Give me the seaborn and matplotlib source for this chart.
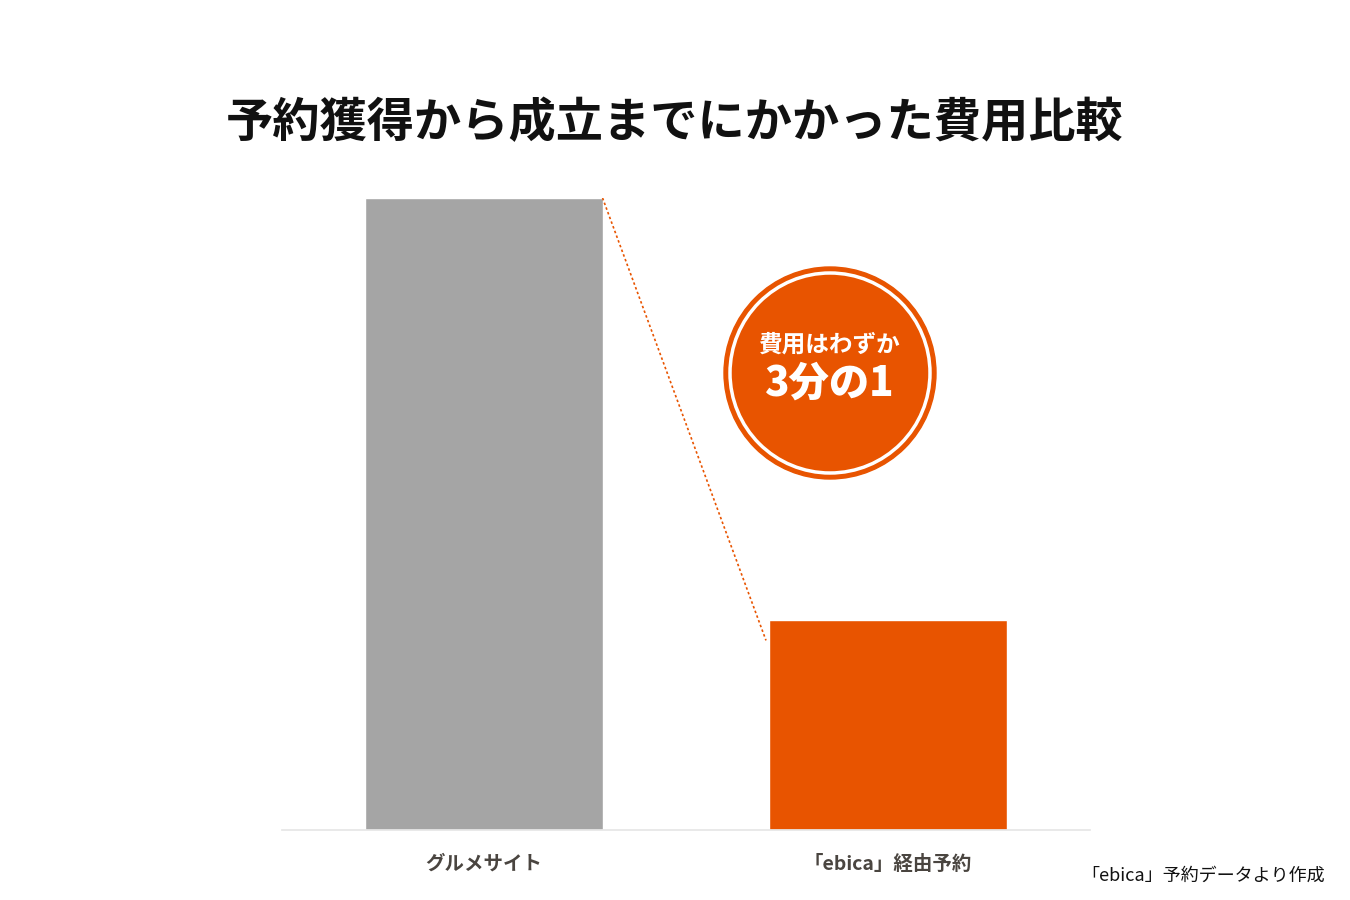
import matplotlib
matplotlib.use("Agg")
import matplotlib.pyplot as plt
import seaborn as sns
import pandas as pd
from matplotlib.patches import Circle

sns.set_theme(style="white")
plt.rcParams['font.family'] = ['Noto Sans CJK JP', 'DejaVu Sans']

categories = ["グルメサイト", "「ebica」経由予約"]
costs = [100, 33.2]
bar_colors = ["#a5a5a5", "#e85400"]

df = pd.DataFrame({"category": categories, "cost": costs})

fig = plt.figure(figsize=(13.5, 9), dpi=100)
ax = fig.add_axes([282/1350, 70/900, 808/1350, 632/900])
sns.barplot(data=df, x="category", y="cost", hue="category", palette=bar_colors,
            width=0.587, legend=False, ax=ax, saturation=1)
ax.set_xlim(-0.5, 1.5)
ax.set_ylim(0, 100)
ax.set_xlabel("")
ax.set_ylabel("")
ax.set_yticks([])
for s in ["top", "right", "left"]:
    ax.spines[s].set_visible(False)
ax.spines["bottom"].set_color("#e6e6e6")
ax.tick_params(axis="x", length=0, pad=18)
for t in ax.get_xticklabels():
    t.set_fontsize(14)
    t.set_fontweight("bold")
    t.set_color("#4a4540")

# dotted connector from bar 1 top to bar 2
ax.plot([0.2935, 0.698], [100, 30], linestyle=(0, (1.5, 1.5)), color="#e85400", lw=1.2)

fig.text(0.5, 1 - 123/900, "予約獲得から成立までにかかった費用比較", ha="center", va="center",
         fontsize=34, fontweight="bold", color="#111111")

# badge
cx, cy = 830/1350, 1 - 373/900
fig.patches.append(Circle((830, 900-373), 106, transform=None, color="#e85400"))
fig.patches.append(Circle((830, 900-373), 100, transform=None, fill=False, ec="white", lw=2.5))
fig.text(cx, 1 - 345/900, "費用はわずか", ha="center", va="center", fontsize=17,
         fontweight="bold", color="white")
fig.text(cx, 1 - 384/900, "3分の1", ha="center", va="center", fontsize=29,
         fontweight="black", color="white")

fig.text(1325/1350, 1 - 876/900, "「ebica」予約データより作成", ha="right", va="center",
         fontsize=13, color="#111111")

fig.savefig("out.png", dpi=100)
